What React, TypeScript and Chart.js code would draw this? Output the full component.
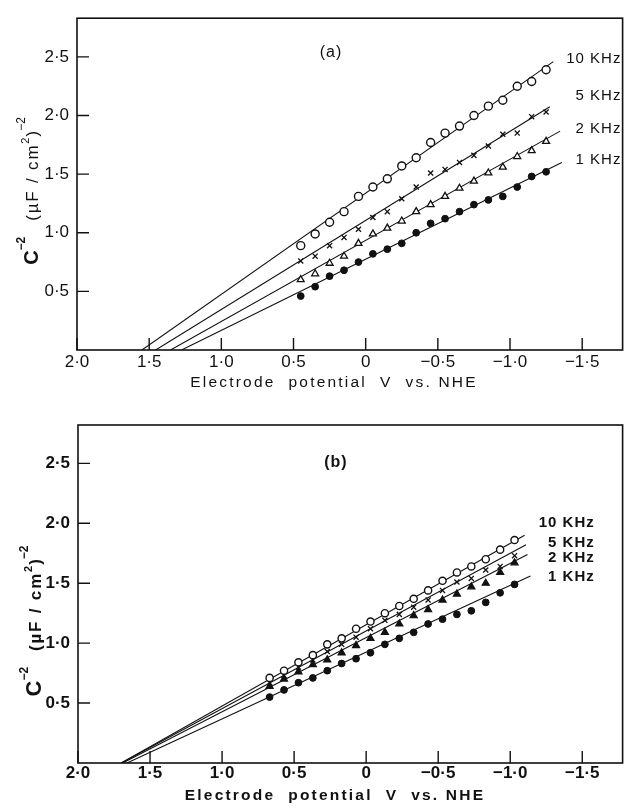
import { useEffect, useRef } from "react"
import { Chart, registerables } from "chart.js"

Chart.register(...registerables)

const seriesNames = ["10 KHz", "5 KHz", "2 KHz", "1 KHz"]
const xTicks = [2, 1.5, 1, 0.5, 0, -0.5, -1, -1.5]
const yTicks = [0.5, 1, 1.5, 2, 2.5]

// panel (a): electrode potential (V vs. NHE) and C^-2 per frequency
const potentialA = [0.45, 0.35, 0.25, 0.15, 0.05, -0.05, -0.15, -0.25, -0.35, -0.45, -0.55, -0.65, -0.75, -0.85, -0.95, -1.05, -1.15, -1.25]
const a10k = [0.89, 0.99, 1.09, 1.18, 1.31, 1.39, 1.46, 1.57, 1.64, 1.77, 1.85, 1.91, 2.0, 2.08, 2.13, 2.25, 2.29, 2.39]
const a5k = [0.76, 0.8, 0.89, 0.96, 1.03, 1.13, 1.18, 1.29, 1.39, 1.51, 1.54, 1.6, 1.66, 1.74, 1.84, 1.85, 1.99, 2.03]
const a2k = [0.6, 0.65, 0.74, 0.8, 0.91, 0.99, 1.04, 1.1, 1.18, 1.24, 1.31, 1.38, 1.44, 1.51, 1.56, 1.65, 1.7, 1.78]
const a1k = [0.46, 0.54, 0.63, 0.68, 0.75, 0.82, 0.86, 0.91, 1.0, 1.08, 1.12, 1.18, 1.24, 1.28, 1.31, 1.39, 1.48, 1.52]
// fitted Mott-Schottky lines, [potential, C^-2] end points
const fitA10k = [[1.55, 0], [-1.3, 2.46]]
const fitA5k = [[1.455, 0], [-1.276, 2.075]]
const fitA2k = [[1.352, 0], [-1.347, 1.867]]
const fitA1k = [[1.276, 0], [-1.359, 1.6]]

// panel (b)
const potentialB = [0.67, 0.57, 0.47, 0.37, 0.27, 0.17, 0.07, -0.03, -0.13, -0.23, -0.33, -0.43, -0.53, -0.63, -0.73, -0.83, -0.93, -1.03]
const b10k = [0.71, 0.77, 0.84, 0.9, 0.99, 1.04, 1.12, 1.18, 1.25, 1.31, 1.37, 1.44, 1.52, 1.59, 1.64, 1.7, 1.78, 1.86]
const b5k = [0.67, 0.73, 0.8, 0.86, 0.93, 0.99, 1.05, 1.12, 1.19, 1.24, 1.3, 1.36, 1.44, 1.51, 1.54, 1.61, 1.64, 1.73]
const b2k = [0.64, 0.7, 0.76, 0.82, 0.86, 0.92, 0.98, 1.04, 1.09, 1.16, 1.23, 1.28, 1.36, 1.41, 1.47, 1.5, 1.59, 1.67]
const b1k = [0.55, 0.61, 0.67, 0.71, 0.77, 0.83, 0.87, 0.92, 0.99, 1.04, 1.09, 1.16, 1.2, 1.24, 1.27, 1.34, 1.42, 1.49]
const fitB10k = [[1.7, 0], [-1.1, 1.9]]
const fitB5k = [[1.7, 0], [-1.11, 1.82]]
const fitB2k = [[1.69, 0], [-1.12, 1.74]]
const fitB1k = [[1.66, 0], [-1.14, 1.56]]

const FONT = "'Liberation Sans', Arial, sans-serif"
const INK = "#111"

type Panel = {
  tag: string
  potential: number[]
  series: number[][]
  fits: number[][][]
  labelAt: number[][]
  tagAt: number[]
  bold: boolean
  height: number
  padTop: number
  xAxisHeight: number
  yAxisWidth: number
  yMax: number
  tickPad: number
  titleCy: number
  titleX: number
  openTriangles: boolean
}

const panels: Panel[] = [
  {
    tag: "(a)",
    potential: potentialA,
    series: [a10k, a5k, a2k, a1k],
    fits: [fitA10k, fitA5k, fitA2k, fitA1k],
    labelAt: [[-1.765, 2.48], [-1.765, 2.17], [-1.765, 1.89], [-1.765, 1.625]],
    tagAt: [0.24, 2.54],
    bold: false,
    height: 400,
    padTop: 10,
    xAxisHeight: 50,
    yAxisWidth: 77,
    yMax: 2.83,
    tickPad: 2,
    titleCy: 191,
    titleX: 38,
    openTriangles: true,
  },
  {
    tag: "(b)",
    potential: potentialB,
    series: [b10k, b5k, b2k, b1k],
    fits: [fitB10k, fitB5k, fitB2k, fitB1k],
    labelAt: [[-1.58, 2.0], [-1.58, 1.84], [-1.58, 1.715], [-1.58, 1.555]],
    tagAt: [0.21, 2.51],
    bold: true,
    height: 410,
    padTop: 25,
    xAxisHeight: 47,
    yAxisWidth: 78,
    yMax: 2.82,
    tickPad: 0,
    titleCy: 221,
    titleX: 41,
    openTriangles: false,
  },
]

function formatTick(v: number) {
  if (v === 0) return "0"
  const s = Math.abs(v).toFixed(1).replace(".", "·")
  return v < 0 ? "−" + s : s
}

type Run = { text: string; font: string; dy?: number; gap?: number; spacing?: string }

function drawRotatedRuns(ctx: CanvasRenderingContext2D, runs: Run[], cx: number, cy: number) {
  ctx.save()
  ctx.translate(cx, cy)
  ctx.rotate(-Math.PI / 2)
  ctx.textAlign = "left"
  ctx.textBaseline = "alphabetic"
  ctx.fillStyle = INK
  let total = 0
  for (const r of runs) {
    ctx.font = r.font
    ;(ctx as any).letterSpacing = r.spacing ?? "0px"
    total += (r.gap ?? 0) + ctx.measureText(r.text).width
  }
  let x = -total / 2
  for (const r of runs) {
    ctx.font = r.font
    ;(ctx as any).letterSpacing = r.spacing ?? "0px"
    x += r.gap ?? 0
    ctx.fillText(r.text, x, r.dy ?? 0)
    x += ctx.measureText(r.text).width
  }
  ctx.restore()
}

function PanelChart({ panel }: { panel: Panel }) {
  const canvasRef = useRef<HTMLCanvasElement>(null)

  useEffect(() => {
    if (!canvasRef.current) return
    const weight = panel.bold ? "bold " : ""

    const markers = [
      { pointStyle: "circle", pointRadius: panel.bold ? 3.6 : 4, pointBackgroundColor: "#fff", pointBorderWidth: 1.4 },
      { pointStyle: "crossRot", pointRadius: 3.6, pointBackgroundColor: INK, pointBorderWidth: 1.3 },
      { pointStyle: "triangle", pointRadius: 4, pointBackgroundColor: panel.openTriangles ? "#fff" : INK, pointBorderWidth: 1.3 },
      { pointStyle: "circle", pointRadius: 3.4, pointBackgroundColor: INK, pointBorderWidth: 1 },
    ]

    const pointSets = panel.series.map((vals, i) => ({
      type: "scatter" as const,
      label: seriesNames[i],
      data: vals.map((c, j) => ({ x: panel.potential[j], y: c })),
      showLine: false,
      pointBorderColor: INK,
      order: 0,
      ...markers[i],
    }))

    const fitSets = panel.fits.map((f, i) => ({
      type: "line" as const,
      label: seriesNames[i] + " fit",
      data: f.map(([x, y]) => ({ x, y })),
      borderColor: INK,
      borderWidth: 1.1,
      pointRadius: 0,
      fill: false,
      order: 1,
    }))

    const framePlugin = {
      id: "frame",
      beforeDatasetsDraw(chart: any) {
        const { ctx, chartArea: a, scales } = chart
        ctx.save()
        ctx.strokeStyle = INK
        ctx.lineWidth = 1.6
        ctx.strokeRect(a.left, a.top, a.right - a.left, a.bottom - a.top)
        ctx.lineWidth = 1.4
        ctx.beginPath()
        for (const v of xTicks) {
          const px = scales.x.getPixelForValue(v)
          ctx.moveTo(px, a.bottom)
          ctx.lineTo(px, a.bottom - 12)
        }
        for (const v of yTicks) {
          const py = scales.y.getPixelForValue(v)
          ctx.moveTo(a.left, py)
          ctx.lineTo(a.left + 12, py)
        }
        ctx.stroke()
        ctx.restore()
      },
      afterDraw(chart: any) {
        const { ctx, chartArea: a, scales } = chart
        ctx.save()
        ctx.fillStyle = INK
        ctx.textBaseline = "middle"

        // frequency labels
        ctx.textAlign = "right"
        ctx.font = `${weight}15px ${FONT}`
        ;(ctx as any).letterSpacing = "1px"
        panel.labelAt.forEach(([v, c], i) => {
          ctx.fillText(seriesNames[i], scales.x.getPixelForValue(v) + 1, scales.y.getPixelForValue(c))
        })

        // panel tag
        ctx.textAlign = "center"
        ctx.font = `${weight}16px ${FONT}`
        ;(ctx as any).letterSpacing = "1px"
        ctx.fillText(panel.tag, scales.x.getPixelForValue(panel.tagAt[0]), scales.y.getPixelForValue(panel.tagAt[1]))

        // x axis title
        ctx.font = `${weight}15.5px ${FONT}`
        ;(ctx as any).letterSpacing = "2.2px"
        ctx.fillText("Electrode  potential  V  vs. NHE", a.left + 257, a.bottom + 33)
        ctx.restore()

        // y axis title with superscripts
        drawRotatedRuns(
          ctx,
          [
            { text: "C", font: `bold ${panel.bold ? 22 : 20}px ${FONT}`, spacing: "0px" },
            { text: "−2", font: `bold 12px ${FONT}`, dy: -13 },
            { text: "(µF / cm", font: `${weight}17px ${FONT}`, gap: 16, spacing: "1.8px" },
            { text: "2", font: `${weight}11px ${FONT}`, dy: -9 },
            { text: ")", font: `${weight}17px ${FONT}`, gap: 1 },
            { text: "−2", font: `${weight}12px ${FONT}`, dy: -13 },
          ],
          panel.titleX,
          panel.titleCy
        )
      },
    }

    const tickFont = { family: FONT, size: 17, weight: panel.bold ? ("bold" as const) : ("normal" as const) }

    const chart = new Chart(canvasRef.current, {
      type: "scatter",
      data: { datasets: [...pointSets, ...fitSets] as any },
      options: {
        responsive: false,
        animation: false,
        layout: { padding: { top: panel.padTop, right: 2, left: 0, bottom: 0 } },
        plugins: { legend: { display: false }, tooltip: { enabled: false } },
        scales: {
          x: {
            type: "linear",
            reverse: true,
            min: -1.78,
            max: 2.0,
            grid: { display: false, drawTicks: false },
            border: { display: false },
            afterBuildTicks: (s: any) => {
              s.ticks = xTicks.map((v) => ({ value: v }))
            },
            afterFit: (s: any) => {
              s.height = panel.xAxisHeight
            },
            ticks: {
              color: INK,
              font: tickFont,
              padding: panel.tickPad,
              autoSkip: false,
              maxRotation: 0,
              callback: (v: any) => formatTick(Number(v)),
            },
          },
          y: {
            type: "linear",
            min: 0,
            max: panel.yMax,
            grid: { display: false, drawTicks: false },
            border: { display: false },
            afterBuildTicks: (s: any) => {
              s.ticks = yTicks.map((v) => ({ value: v }))
            },
            afterFit: (s: any) => {
              s.width = panel.yAxisWidth
            },
            ticks: {
              color: INK,
              font: tickFont,
              padding: 8,
              autoSkip: false,
              callback: (v: any) => formatTick(Number(v)),
            },
          },
        },
      },
      plugins: [framePlugin],
    })

    return () => chart.destroy()
  }, [panel])

  return <canvas ref={canvasRef} width={628} height={panel.height} style={{ display: "block" }} />
}

export default function App() {
  useEffect(() => {
    document.body.style.margin = "0"
  }, [])
  return (
    <div style={{ width: 628, height: 810, background: "#fff" }}>
      {panels.map((p) => (
        <PanelChart key={p.tag} panel={p} />
      ))}
    </div>
  )
}
